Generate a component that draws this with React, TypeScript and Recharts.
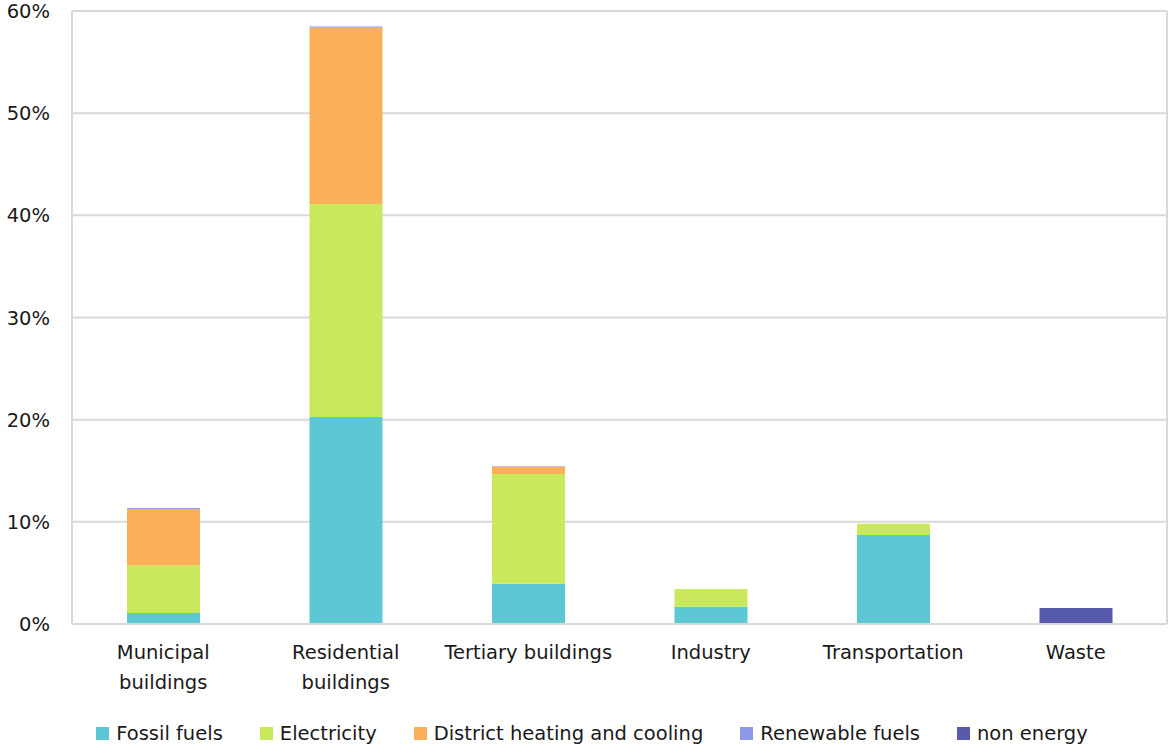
import { Bar, BarChart, CartesianGrid, Legend, XAxis, YAxis } from "recharts";

const sectors = [
  "Municipal\nbuildings",
  "Residential\nbuildings",
  "Tertiary buildings",
  "Industry",
  "Transportation",
  "Waste",
];

const fossilFuels = [1.08, 20.25, 3.95, 1.7, 8.71, 0];
const electricity = [4.66, 20.85, 10.73, 1.72, 1.1, 0];
const districtHeating = [5.48, 17.28, 0.71, 0, 0, 0];
const renewableFuels = [0.13, 0.1, 0.05, 0, 0, 0];
const nonEnergy = [0, 0, 0, 0, 0, 1.57];

const yTicks = [0, 10, 20, 30, 40, 50, 60];

const series = [
  { key: "fossil", name: "Fossil fuels", color: "#5BC8D3" },
  { key: "electricity", name: "Electricity", color: "#C9E85B" },
  { key: "district", name: "District heating and cooling", color: "#FAAF58" },
  { key: "renewable", name: "Renewable fuels", color: "#8E97E8" },
  { key: "nonEnergy", name: "non energy", color: "#585BAB" },
];

const data = sectors.map((sector, i) => ({
  sector,
  fossil: fossilFuels[i],
  electricity: electricity[i],
  district: districtHeating[i],
  renewable: renewableFuels[i],
  nonEnergy: nonEnergy[i],
}));

const FONT = "'DejaVu Sans', sans-serif";
const FONT_SIZE = 19.5;
const INK = "#1a1a1a";
const GRID = "#d9d9d9";

function SectorTick({ x, y, payload }: any) {
  const lines = String(payload.value).split("\n");
  return (
    <text x={x} y={y} textAnchor="middle" fill={INK} fontSize={FONT_SIZE} fontFamily={FONT}>
      {lines.map((line, i) => (
        <tspan key={i} x={x} dy={i === 0 ? 27 : 30}>
          {line}
        </tspan>
      ))}
    </text>
  );
}

function ValueTick({ x, y, payload }: any) {
  return (
    <text x={x} y={y + 7} textAnchor="end" fill={INK} fontSize={FONT_SIZE} fontFamily={FONT}>
      {`${payload.value}%`}
    </text>
  );
}

function LegendRow() {
  return (
    <div
      style={{
        height: 32,
        display: "flex",
        justifyContent: "center",
        alignItems: "center",
        gap: 37,
        fontFamily: FONT,
        fontSize: FONT_SIZE,
        color: INK,
        paddingLeft: 16,
      }}
    >
      {series.map((s) => (
        <div key={s.key} style={{ display: "flex", alignItems: "center", gap: 7 }}>
          <span style={{ width: 13, height: 13, background: s.color, display: "inline-block" }} />
          <span>{s.name}</span>
        </div>
      ))}
    </div>
  );
}

export default function App() {
  return (
    <div style={{ position: "fixed", top: 0, left: 0, width: 1169, height: 749, background: "#fff" }}>
      <BarChart
        width={1169}
        height={749}
        data={data}
        margin={{ top: 11, right: 1, bottom: 0, left: 0 }}
        barSize={73}
      >
        <CartesianGrid vertical={false} stroke={GRID} strokeWidth={2} />
        <XAxis
          dataKey="sector"
          height={93}
          tickLine={false}
          axisLine={{ stroke: GRID, strokeWidth: 2 }}
          tick={<SectorTick />}
          interval={0}
        />
        <YAxis
          width={72}
          domain={[0, 60]}
          ticks={yTicks}
          tickLine={false}
          tickSize={0}
          tickMargin={22}
          axisLine={{ stroke: GRID, strokeWidth: 2 }}
          tick={<ValueTick />}
        />
        <YAxis
          yAxisId="frame"
          orientation="right"
          width={1}
          domain={[0, 60]}
          tick={false}
          tickLine={false}
          axisLine={{ stroke: GRID, strokeWidth: 2 }}
        />
        <Legend verticalAlign="bottom" content={<LegendRow />} />
        {series.map((s) => (
          <Bar
            key={s.key}
            dataKey={s.key}
            name={s.name}
            stackId="total"
            fill={s.color}
            isAnimationActive={false}
          />
        ))}
      </BarChart>
    </div>
  );
}
